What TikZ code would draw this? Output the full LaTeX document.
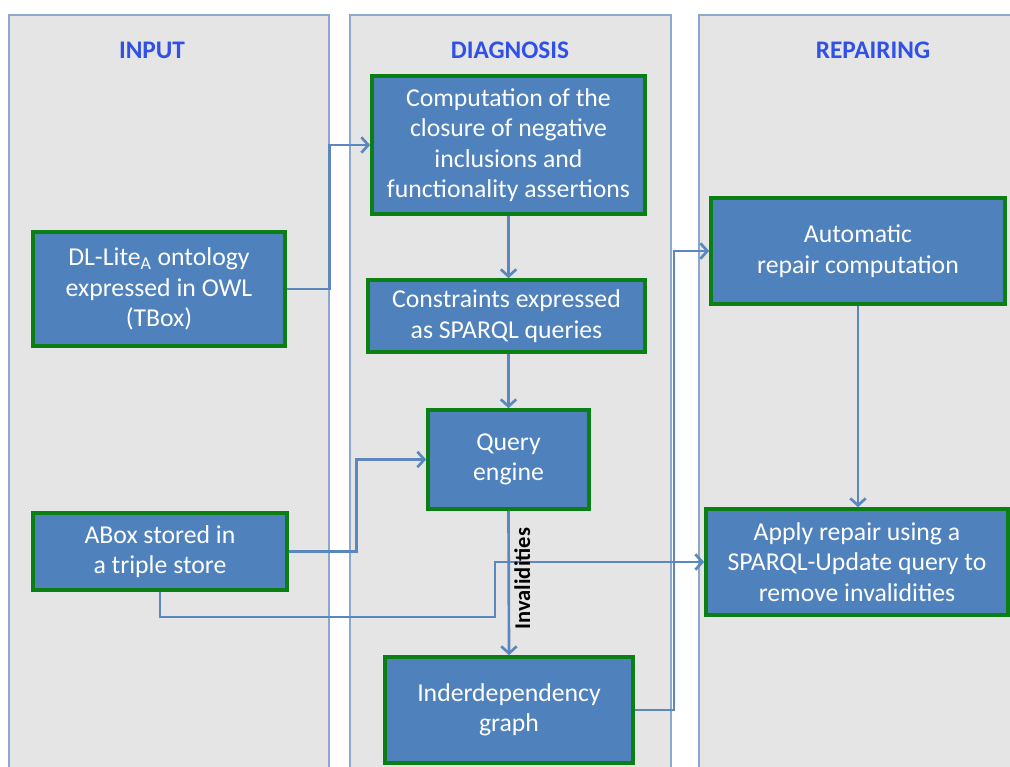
\documentclass[tikz,border=0pt]{standalone}
\usepackage{fontspec}
\setmainfont{Carlito}
\usetikzlibrary{arrows.meta}
\newlength\px
\setlength\px{0.025cm}
\definecolor{panelfill}{RGB}{229,229,229}
\definecolor{paneledge}{RGB}{140,168,204}
\definecolor{boxfill}{RGB}{79,129,189}
\definecolor{boxedge}{RGB}{10,128,20}
\definecolor{headblue}{RGB}{48,80,232}
\definecolor{linkblue}{RGB}{92,135,190}
\tikzset{
  panel/.style={draw=paneledge, fill=panelfill, line width=0.8pt},
  heading/.style={text=headblue, font=\fontsize{18}{21}\selectfont\bfseries},
  stage/.style={draw=boxedge, fill=boxfill, line width=2.6pt, text=white,
    align=center, inner sep=2pt, font=\fontsize{18.3}{21.6}\selectfont},
  link/.style={draw=linkblue, line width=1.9pt,
    -{Straight Barb[length=5pt, width=11pt]}},
}
\begin{document}
\begin{tikzpicture}[x=0.025cm, y=-0.025cm]
    \path[use as bounding box, clip] (0,0) rectangle (1010,767);
    \fill[white] (0,0) rectangle (1010,767);
    % columns
    \draw[panel] (9,15) rectangle (329,790);
    \draw[panel] (350,15) rectangle (671,790);
    \draw[panel] (699,15) rectangle (1030,790);
    \node[heading] (hinput) at (152,50) {INPUT};
    \node[heading] (hdiag) at (510,50) {DIAGNOSIS};
    \node[heading] (hrepair) at (873,50) {REPAIRING};
    % input
    \node[stage, minimum width=252\px, minimum height=114\px] (tbox) at (159,289)
        {DL-Lite\textsubscript{A} ontology\\expressed in OWL\\(TBox)};
    \node[stage, minimum width=254\px, minimum height=77\px] (abox) at (160,551.5)
        {ABox stored in\\a triple store};
    % diagnosis
    \node[stage, minimum width=273\px, minimum height=138\px] (closure) at (508.5,145)
        {Computation of the\\closure of negative\\inclusions and\\functionality assertions};
    \node[stage, minimum width=277\px, minimum height=72\px] (sparql) at (506.5,316)
        {Constraints expressed\\as SPARQL queries};
    \node[stage, minimum width=161\px, minimum height=99\px] (engine) at (508.5,459.5)
        {Query\\engine};
    \node[stage, minimum width=248\px, minimum height=106\px] (graph) at (509,710)
        {Inderdependency\\graph};
    % repairing
    \node[stage, minimum width=294\px, minimum height=106\px] (autorep) at (858,251)
        {Automatic\\repair computation};
    \node[stage, minimum width=302\px, minimum height=106\px] (apply) at (857,562)
        {Apply repair using a\\SPARQL-Update query to\\remove invalidities};
    % connectors
    \coordinate (aboxturn) at (495,617);
    \draw[link] (tbox.east) -- ++(43,0) |- (closure.west);
    \draw[link] (closure.south) -- (closure.south |- sparql.north);
    \draw[link] (engine.north |- sparql.south) -- (engine.north);
    \draw[link] (abox.east) -- ++(68,0) |- (engine.west);
    \draw[link] (abox.south) |- (aboxturn) |- (apply.west);
    \draw[link] (engine.south) -- (graph.north)
        node[pos=0.47, rotate=90, anchor=north, inner sep=3pt,
             font=\fontsize{16}{18}\selectfont\bfseries] (invalid) {Invalidities};
    \draw[link] (graph.east) -- ++(39,0) |- (autorep.west);
    \draw[link] (autorep.south) -- (apply.north -| autorep.south);
\end{tikzpicture}
\end{document}
